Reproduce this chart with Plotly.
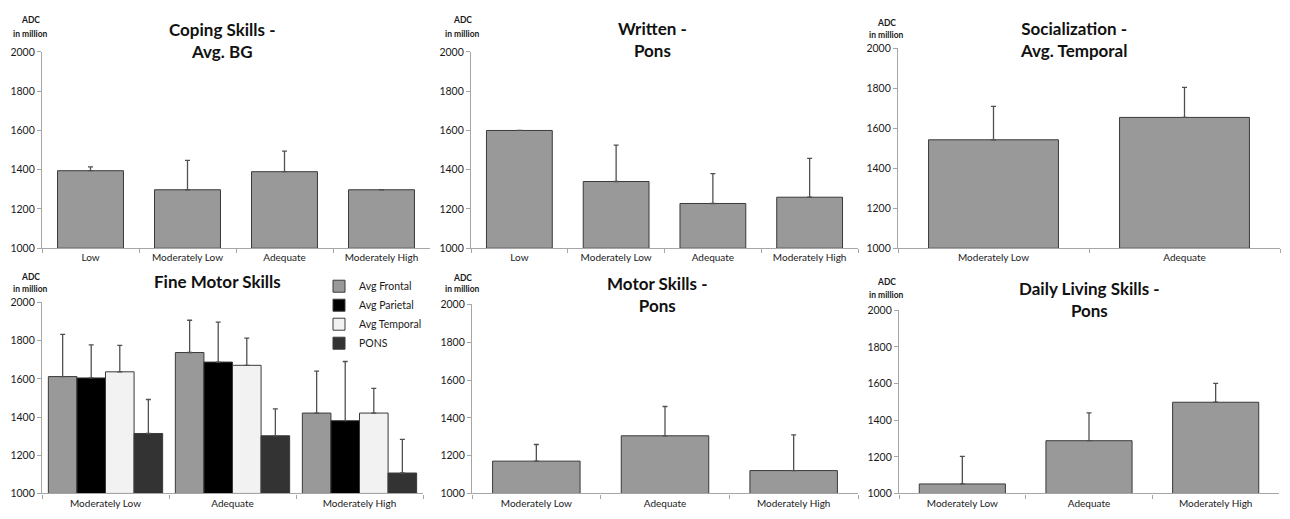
import plotly.graph_objects as go

# ---------------- data ----------------
cat4 = ["Low", "Moderately Low", "Adequate", "Moderately High"]
cat3 = ["Moderately Low", "Adequate", "Moderately High"]
cat2 = ["Moderately Low", "Adequate"]

coping_vals = [1395, 1298, 1390, 1298]
coping_err = [20, 150, 105, 0]

written_vals = [1600, 1340, 1228, 1260]
written_err = [0, 185, 152, 198]

social_vals = [1543, 1655]
social_err = [167, 150]

fine_series = ["Avg Frontal", "Avg Parietal", "Avg Temporal", "PONS"]
fine_vals = {
    "Avg Frontal": [1612, 1738, 1421],
    "Avg Parietal": [1605, 1688, 1381],
    "Avg Temporal": [1637, 1671, 1421],
    "PONS": [1314, 1302, 1107],
}
fine_err = {
    "Avg Frontal": [221, 169, 220],
    "Avg Parietal": [173, 209, 310],
    "Avg Temporal": [138, 142, 129],
    "PONS": [178, 141, 176],
}

motor_vals = [1171, 1305, 1121]
motor_err = [88, 155, 189]

daily_vals = [1052, 1288, 1498]
daily_err = [151, 152, 103]

y_ticks = [1000, 1200, 1400, 1600, 1800, 2000]

# ---------------- style ----------------
FONT = "Lato"
BAR_GRAY = "#999999"
EDGE = "#3a3a3a"
AXIS = "#a6a6a6"
TXT = "#1a1a1a"
ERR = "#505050"
fine_colors = {"Avg Frontal": "#999999", "Avg Parietal": "#000000",
               "Avg Temporal": "#f2f2f2", "PONS": "#333333"}

W, H = 1290, 519

def px_x(p):
    return p / W

def px_y(p):
    return 1 - p / H

panels = [
    ((42, 430), (47, 248)),
    ((471, 858), (47, 248)),
    ((898, 1280), (43.5, 248)),
    ((42, 423), (303.5, 499)),
    ((472, 858), (305.5, 499)),
    ((899, 1279), (311.5, 499)),
]

fig = go.Figure()

def err(arr):
    return dict(type="data", symmetric=False, array=arr, arrayminus=[0] * len(arr),
                color=ERR, thickness=1.3, width=2.5)

def single(i, cats, vals, errs):
    ax = "" if i == 1 else str(i)
    fig.add_trace(go.Bar(
        x=cats, y=[v - 1000 for v in vals], base=1000,
        width=0.68, offset=-0.34,
        marker=dict(color=BAR_GRAY, line=dict(color=EDGE, width=1)),
        error_y=err(errs), showlegend=False,
        xaxis="x" + ax, yaxis="y" + ax,
    ))

single(1, cat4, coping_vals, coping_err)
single(2, cat4, written_vals, written_err)
single(3, cat2, social_vals, social_err)

bw = 0.225
for k, s in enumerate(fine_series):
    fig.add_trace(go.Bar(
        x=cat3, y=[v - 1000 for v in fine_vals[s]], base=1000,
        width=bw, offset=-0.45 + k * bw, name=s, legendgroup=s,
        marker=dict(color=fine_colors[s], line=dict(color=EDGE, width=1)),
        error_y=err(fine_err[s]),
        xaxis="x4", yaxis="y4",
    ))

single(5, cat3, motor_vals, motor_err)
single(6, cat3, daily_vals, daily_err)

layout = dict(
    width=W, height=H,
    margin=dict(l=0, r=0, t=0, b=0),
    paper_bgcolor="white", plot_bgcolor="white",
    font=dict(family=FONT, size=10, color=TXT),
    barmode="overlay",
    legend=dict(x=px_x(319), y=px_y(272), xanchor="left", yanchor="top",
                bgcolor="rgba(0,0,0,0)", font=dict(size=10.5, color=TXT),
                tracegroupgap=7, itemwidth=30, traceorder="normal"),
)

for i, ((x0, x1), (yt, yb)) in enumerate(panels, start=1):
    ax = "" if i == 1 else str(i)
    layout["xaxis" + ax] = dict(
        domain=[px_x(x0), px_x(x1)], anchor="y" + ax, type="category",
        showline=True, linecolor=AXIS, linewidth=1.3,
        ticks="outside", tickson="boundaries", ticklen=4, tickcolor=AXIS,
        showgrid=False, zeroline=False, fixedrange=True,
        tickfont=dict(size=10, color=TXT),
    )
    layout["yaxis" + ax] = dict(
        domain=[px_y(yb), px_y(yt)], anchor="x" + ax, range=[1000, 2000],
        tickvals=y_ticks, showline=True, linecolor=AXIS, linewidth=1.3,
        ticks="outside", ticklen=4, tickcolor=AXIS,
        showgrid=False, zeroline=False, fixedrange=True,
        tickfont=dict(size=10.5, color=TXT),
    )

fig.update_layout(**layout)

titles = [
    ("Coping Skills -<br>Avg. BG", 222, 35),
    ("Written -<br>Pons", 652, 34),
    ("Socialization -<br>Avg. Temporal", 1073, 34),
    ("Fine Motor Skills", 217, 282),
    ("Motor Skills -<br>Pons", 657, 295),
    ("Daily Living Skills -<br>Pons", 1089, 300),
]
for t, cx, cy in titles:
    fig.add_annotation(text="<b>" + t + "</b>", x=px_x(cx), y=px_y(cy),
                       xref="paper", yref="paper", showarrow=False,
                       xanchor="center", yanchor="middle",
                       font=dict(family=FONT, size=17, color="#111111"))

adc = [(30, 14, 29), (462, 14, 29), (886, 17, 30),
       (30, 277, 290), (462, 278, 290), (887, 283, 296)]
for cx, y1, y2 in adc:
    fig.add_annotation(text="<b>ADC</b>", x=px_x(cx), y=px_y(y1), xref="paper", yref="paper",
                       showarrow=False, xanchor="center", yanchor="middle",
                       font=dict(family=FONT, size=8.5, color=TXT))
    fig.add_annotation(text="<b>in million</b>", x=px_x(cx), y=px_y(y2), xref="paper", yref="paper",
                       showarrow=False, xanchor="center", yanchor="middle",
                       font=dict(family=FONT, size=8.5, color=TXT))

page_css = (
    "var s=document.createElement('style');"
    "s.innerHTML='html,body{margin:0;padding:0;overflow:hidden;height:519px;}"
    "body>div{height:519px;overflow:hidden;line-height:0;}"
    ".plotly-graph-div{display:block;}';"
    "document.head.appendChild(s);"
)

fig.write_html("out.html", config={"displayModeBar": False}, post_script=page_css)
